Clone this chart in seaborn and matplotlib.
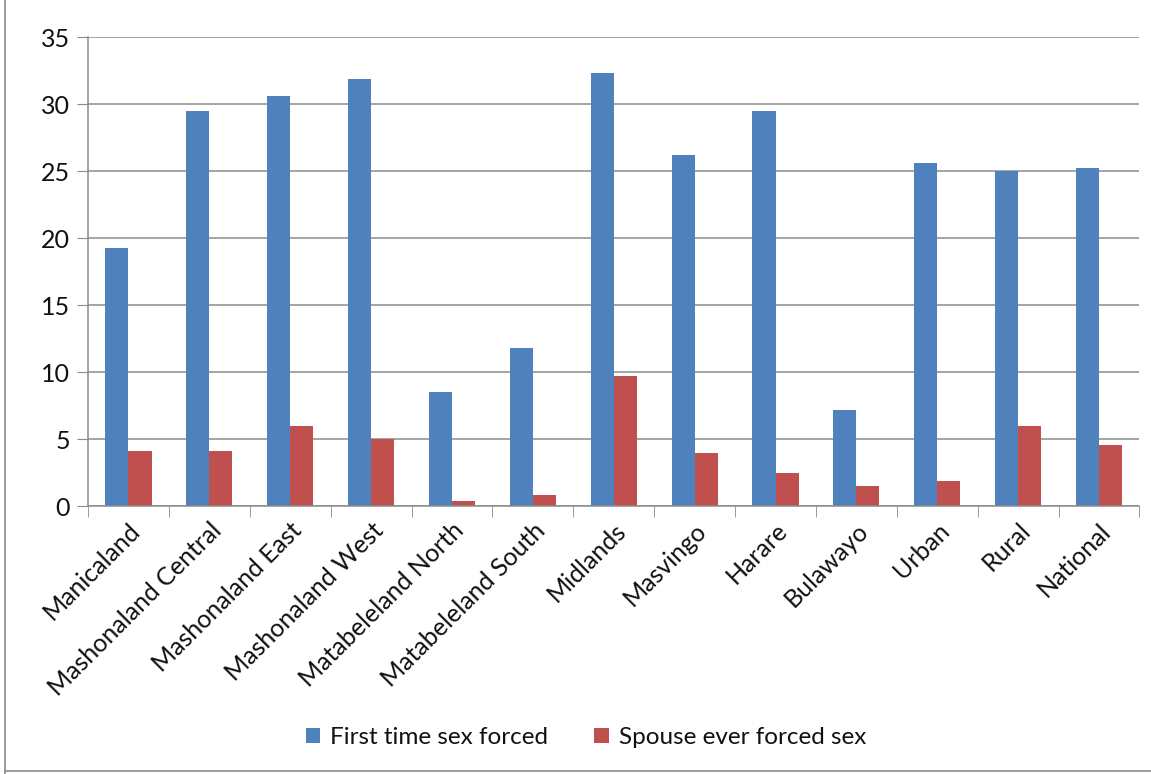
import numpy as np
import pandas as pd
import seaborn as sns
import matplotlib.pyplot as plt
from matplotlib.lines import Line2D

# values
regions = ['Manicaland', 'Mashonaland Central', 'Mashonaland East', 'Mashonaland West',
           'Matabeleland North', 'Matabeleland South', 'Midlands', 'Masvingo',
           'Harare', 'Bulawayo', 'Urban', 'Rural', 'National']
first_time = [19.3, 29.5, 30.6, 31.9, 8.5, 11.8, 32.3, 26.2, 29.5, 7.2, 25.6, 25.0, 25.2]
spouse = [4.1, 4.1, 6.0, 5.0, 0.4, 0.8, 9.7, 4.0, 2.5, 1.5, 1.9, 6.0, 4.6]
series_names = ['First time sex forced', 'Spouse ever forced sex']

df = pd.DataFrame({
    'region': regions * 2,
    'value': first_time + spouse,
    'series': [series_names[0]] * len(regions) + [series_names[1]] * len(regions),
})

sns.set_style('white')
plt.rcParams['font.family'] = ['Lato', 'DejaVu Sans']
plt.rcParams['text.color'] = '#111111'
plt.rcParams['xtick.labelcolor'] = '#111111'
plt.rcParams['ytick.labelcolor'] = '#111111'

fig = plt.figure(figsize=(11.51, 7.74), dpi=100)
ax = fig.add_axes([0.0765, 0.346, 0.9135, 0.606])

sns.barplot(data=df, x='region', y='value', hue='series', order=regions,
            palette=['#4F81BD', '#C0504D'], width=0.57, saturation=1,
            errorbar=None, linewidth=0, ax=ax)

ax.set_xlim(-0.5, len(regions) - 0.5)
ax.set_ylim(0, 35)
ax.set_yticks(range(0, 36, 5))
ax.yaxis.grid(True, color='#8c8c8c', linewidth=1.1)
ax.set_axisbelow(True)
ax.set_xlabel('')
ax.set_ylabel('')

for s in ['top', 'right']:
    ax.spines[s].set_visible(False)
for s in ['left', 'bottom']:
    ax.spines[s].set_color('#8c8c8c')
    ax.spines[s].set_linewidth(1.1)

ax.tick_params(axis='y', length=8, color='#8c8c8c', labelsize=18, pad=5, left=True)
ax.set_xticks(np.arange(len(regions)))
ax.set_xticklabels(regions, rotation=45, ha='right', rotation_mode='anchor', fontsize=18)
ax.tick_params(axis='x', which='major', length=0, pad=9)
ax.set_xticks(np.arange(-0.5, len(regions)), minor=True)
ax.tick_params(axis='x', which='minor', length=8, color='#8c8c8c', bottom=True)

ax.legend(loc='center', bbox_to_anchor=(0.509, 0.047), bbox_transform=fig.transFigure,
          ncol=2, frameon=False, fontsize=17.5, handlelength=0.6, handleheight=0.6,
          columnspacing=1.9, handletextpad=0.4)

# outer chart border
fig.add_artist(Line2D([0.004, 0.004], [0.0, 1.0], color='#8c8c8c', lw=1.2, transform=fig.transFigure))
fig.add_artist(Line2D([0.004, 1.0], [0.004, 0.004], color='#8c8c8c', lw=1.2, transform=fig.transFigure))

plt.savefig('out.png', dpi=100)
plt.clf()
